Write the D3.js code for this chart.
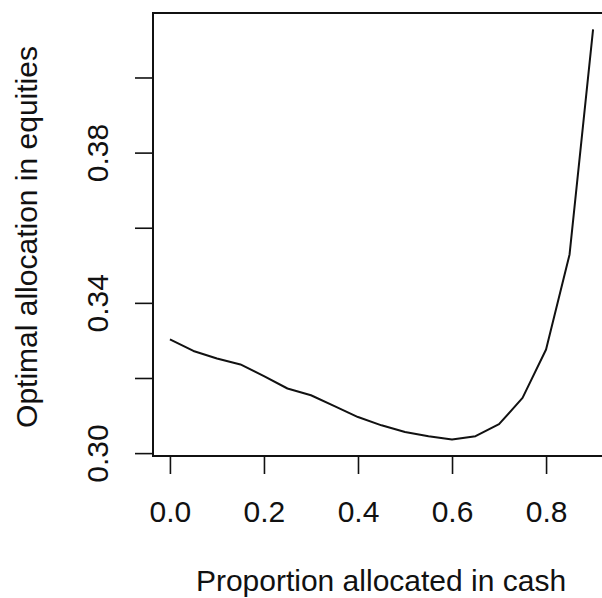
<!DOCTYPE html>
<html>
<head>
<meta charset="utf-8">
<script src="https://cdn.jsdelivr.net/npm/d3@7"></script>
<style>
  html, body { margin: 0; padding: 0; background: #fff; }
  svg { display: block; }
  text { font-family: "Liberation Sans", Arial, Helvetica, sans-serif; fill: #111; }
</style>
</head>
<body>
<svg id="chart" width="602" height="598"></svg>
<script>
// Proportion of the portfolio held in cash
const cashShare = [0, 0.05, 0.10, 0.15, 0.20, 0.25, 0.30, 0.35, 0.40, 0.45,
                   0.50, 0.55, 0.60, 0.65, 0.70, 0.75, 0.80, 0.85, 0.90];
// Optimal weight of equities for each cash share
const equityWeight = [0.3303, 0.3272, 0.3252, 0.3236, 0.3205, 0.3172, 0.3154, 0.3125, 0.3096, 0.3074,
                      0.3056, 0.3045, 0.3036, 0.3045, 0.3077, 0.3147, 0.3276, 0.3529, 0.4128];

const xTicks = [0.0, 0.2, 0.4, 0.6, 0.8];
const xTickLabels = ["0.0", "0.2", "0.4", "0.6", "0.8"];
const yTicks = [0.30, 0.32, 0.34, 0.36, 0.38, 0.40];
const yTickLabels = ["0.30", "", "0.34", "", "0.38", ""];

const xTitle = "Proportion allocated in cash";
const yTitle = "Optimal allocation in equities";

const svg = d3.select("#chart");

// plot region (right side runs past the visible canvas)
const plotLeft = 153, plotRight = 610, plotTop = 13, plotBottom = 456;

// 4% padding around the data range on both axes
const xMin = d3.min(cashShare), xMax = d3.max(cashShare);
const yMin = d3.min(equityWeight), yMax = d3.max(equityWeight);
const xPad = (xMax - xMin) * 0.04, yPad = (yMax - yMin) * 0.04;

const x = d3.scaleLinear().domain([xMin - xPad, xMax + xPad]).range([plotLeft, plotRight]);
const y = d3.scaleLinear().domain([yMin - yPad, yMax + yPad]).range([plotBottom, plotTop]);

const labelFont = "30px";
const titleFont = "30px";

// bottom axis
const xAxis = d3.axisBottom(x)
  .tickValues(xTicks)
  .tickSize(18)
  .tickFormat((d, i) => xTickLabels[i]);

const gx = svg.append("g")
  .attr("transform", `translate(0,${plotBottom})`)
  .call(xAxis);
gx.select(".domain").remove();
gx.selectAll(".tick line").attr("stroke", "#111").attr("stroke-width", 1.6);
gx.selectAll(".tick text")
  .attr("y", 66).attr("dy", null)
  .style("font-size", labelFont)
  .style("font-family", '"Liberation Sans", Arial, sans-serif')
  .attr("fill", "#111");

// left axis with rotated labels
const yAxis = d3.axisLeft(y)
  .tickValues(yTicks)
  .tickSize(18)
  .tickFormat((d, i) => yTickLabels[i]);

const gy = svg.append("g")
  .attr("transform", `translate(${plotLeft},0)`)
  .call(yAxis);
gy.select(".domain").remove();
gy.selectAll(".tick line").attr("stroke", "#111").attr("stroke-width", 1.6);
gy.selectAll(".tick text")
  .attr("x", null).attr("dy", null)
  .attr("text-anchor", "middle")
  .attr("transform", "translate(-45,0) rotate(-90)")
  .style("font-size", labelFont)
  .style("font-family", '"Liberation Sans", Arial, sans-serif')
  .attr("fill", "#111");

// plot frame
svg.append("rect")
  .attr("x", plotLeft).attr("y", plotTop)
  .attr("width", plotRight - plotLeft).attr("height", plotBottom - plotTop)
  .attr("fill", "none").attr("stroke", "#111").attr("stroke-width", 2);

// curve
const line = d3.line()
  .x((d, i) => x(cashShare[i]))
  .y(d => y(d));

svg.append("path")
  .datum(equityWeight)
  .attr("d", line)
  .attr("fill", "none")
  .attr("stroke", "#111")
  .attr("stroke-width", 2)
  .attr("stroke-linejoin", "round");

// axis titles
svg.append("text")
  .attr("x", 381)
  .attr("y", 591)
  .attr("text-anchor", "middle")
  .style("font-size", titleFont)
  .text(xTitle);

svg.append("text")
  .attr("transform", "translate(37,237) rotate(-90)")
  .attr("text-anchor", "middle")
  .style("font-size", titleFont)
  .text(yTitle);
</script>
</body>
</html>
